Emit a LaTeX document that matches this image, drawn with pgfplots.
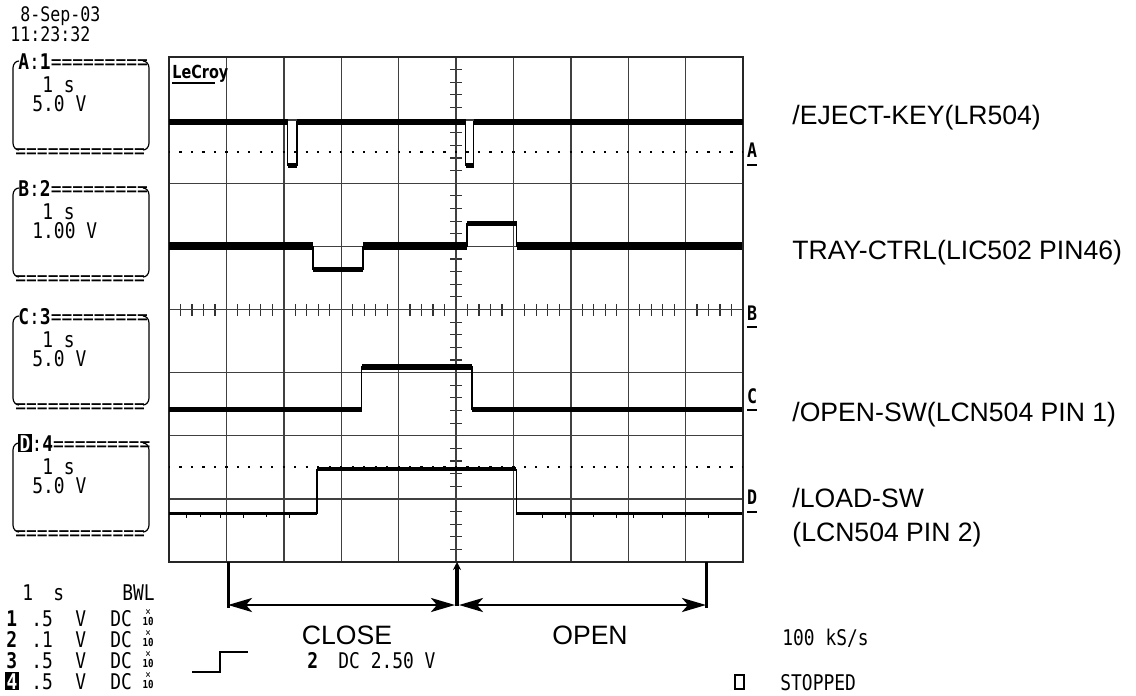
\documentclass[border=0pt]{standalone}
\usepackage{fontspec}
\setmainfont{Liberation Sans}
\newfontfamily\scr[FakeStretch=0.83]{DejaVu Sans Mono}
\newfontfamily\logofont[FakeStretch=0.8]{DejaVu Sans}
\usepackage{pgfplots}
\pgfplotsset{compat=1.18}
\usetikzlibrary{arrows.meta}
\newcommand{\sz}{\fontsize{10.8pt}{12pt}\selectfont}
\newcommand{\lab}{\fontsize{13.3pt}{15pt}\selectfont}
\begin{document}
\begin{tikzpicture}
% ---- centre graticule ticks ----
\begin{axis}[at={(84.5pt,-281pt)}, anchor=south west, scale only axis,
  width=287pt, height=252.5pt,
  xmin=-5, xmax=5, ymin=-4, ymax=4, enlargelimits=false,
  axis lines=middle, axis line style={-, draw=black!80, line width=0.7pt},
  xtick distance=0.2, ytick distance=0.2,
  xticklabel=\empty, yticklabel=\empty,
  tick align=center, major tick length=6pt,
  tick style={black!80, line width=0.6pt}]
\end{axis}
% ---- main graticule and traces ----
\begin{axis}[at={(84.5pt,-281pt)}, anchor=south west, scale only axis,
  width=287pt, height=252.5pt,
  xmin=0, xmax=10, ymin=0, ymax=8,
  xtick={0,...,10}, ytick={0,...,8},
  xticklabel=\empty, yticklabel=\empty, major tick length=0pt,
  grid=major, major grid style={black!75, line width=0.7pt},
  axis line style={black!85, line width=0.9pt},
  unbounded coords=jump, clip=false]
% reference dots (A and D)
\addplot[black, line width=1.1pt, dash pattern=on 1.1pt off 4.64pt, dash phase=0.55pt] coordinates {(0,6.5) (10,6.5)};
\addplot[black, line width=1.1pt, dash pattern=on 1.1pt off 4.64pt, dash phase=0.55pt] coordinates {(0,1.5) (10,1.5)};
% A: /EJECT-KEY
\addplot[black, line width=0.6pt] coordinates {(0,6.97) (2.07,6.97) (2.07,6.28) (2.23,6.28) (2.23,6.97) (5.17,6.97) (5.17,6.28) (5.31,6.28) (5.31,6.97) (10,6.97)};
\addplot[black, line width=2.6pt] coordinates {(0,6.97) (2.07,6.97) (2.1,nan) (2.23,6.97) (5.17,6.97) (5.2,nan) (5.31,6.97) (10,6.97) (10,nan) (2.07,6.28) (2.23,6.28) (2.3,nan) (5.17,6.28) (5.31,6.28)};
% B: TRAY-CTRL
\addplot[black, line width=0.6pt] coordinates {(0,5) (2.51,5) (2.51,4.63) (3.38,4.63) (3.38,5) (5.19,5) (5.19,5.36) (6.06,5.36) (6.06,5) (9.98,5)};
\addplot[black, line width=4pt] coordinates {(0,5) (2.51,5) (2.6,nan) (3.38,5) (5.19,5) (5.3,nan) (6.06,5) (9.98,5)};
\addplot[black, line width=2.4pt] coordinates {(2.51,4.63) (3.38,4.63) (3.5,nan) (5.19,5.36) (6.06,5.36)};
% C: /OPEN-SW
\addplot[black, line width=0.6pt] coordinates {(0,2.41) (3.36,2.41) (3.36,3.09) (5.28,3.09) (5.28,2.41) (9.98,2.41)};
\addplot[black, line width=2.6pt] coordinates {(0,2.41) (3.36,2.41) (3.4,nan) (3.36,3.09) (5.28,3.09) (5.3,nan) (5.28,2.41) (9.98,2.41)};
% D: /LOAD-SW
\addplot[black, line width=0.6pt] coordinates {(0,0.77) (2.58,0.77) (2.58,1.47) (6.05,1.47) (6.05,0.77) (9.98,0.77)};
\addplot[black, line width=1.8pt] coordinates {(0,0.77) (2.58,0.77) (2.6,nan) (6.05,0.77) (9.98,0.77)};
\addplot[black, line width=2.2pt] coordinates {(2.58,1.47) (6.05,1.47)};
% D noise spikes
\addplot[black, line width=0.5pt] coordinates {(0.3,0.77) (0.3,0.69) (0.31,nan) (0.55,0.77) (0.55,0.71) (0.56,nan) (0.9,0.77) (0.9,0.70) (0.91,nan) (1.3,0.77) (1.3,0.69) (1.31,nan) (1.7,0.77) (1.7,0.71) (1.71,nan) (2.1,0.77) (2.1,0.70) (2.11,nan) (6.5,0.77) (6.5,0.70) (6.51,nan) (6.9,0.77) (6.9,0.69) (6.91,nan) (7.4,0.77) (7.4,0.71) (7.41,nan) (7.8,0.77) (7.8,0.69) (7.81,nan) (8.1,0.77) (8.1,0.70) (8.11,nan) (8.6,0.77) (8.6,0.69) (8.61,nan) (9.0,0.77) (9.0,0.71) (9.01,nan) (9.4,0.77) (9.4,0.70)};
\end{axis}
% ---- annotations in pixel units ----
\begin{scope}[x=0.5pt, y=-0.5pt]
\path (0,0) rectangle (1136,696);
% logo
\node[anchor=base west, inner sep=0, font=\logofont\bfseries\fontsize{9pt}{10pt}\selectfont] at (172,78) {LeCroy};
\draw[line width=1pt] (172,83) -- (215,83);
% arrows under the grid
\draw[line width=1.5pt] (228,562) -- (228,608);
\draw[line width=1.5pt] (706,562) -- (706,608);
\draw[line width=1.4pt, {Stealth[length=12pt,width=7pt,inset=3pt]}-{Stealth[length=12pt,width=7pt,inset=3pt]}] (228,605) -- (455,605);
\draw[line width=1.4pt, {Stealth[length=12pt,width=7pt,inset=3pt]}-{Stealth[length=12pt,width=7pt,inset=3pt]}] (459,605) -- (706,605);
\draw[line width=2pt, -{Stealth[length=4pt,width=4pt]}] (457,606) -- (457,562);
\node[anchor=base, inner sep=0, font=\lab] at (347,644) {CLOSE};
\node[anchor=base, inner sep=0, font=\lab] at (590,644) {OPEN};
% right labels
\node[anchor=base west, inner sep=0, font=\lab] at (792,124) {/EJECT-KEY(LR504)};
\node[anchor=base west, inner sep=0, font=\lab] at (792,259) {TRAY-CTRL(LIC502 PIN46)};
\node[anchor=base west, inner sep=0, font=\lab] at (792,421) {/OPEN-SW(LCN504 PIN 1)};
\node[anchor=base west, inner sep=0, font=\lab] at (792,507) {/LOAD-SW};
\node[anchor=base west, inner sep=0, font=\lab] at (792,541) {(LCN504 PIN 2)};
% channel markers
\foreach \L/\c/\u in {A/150/165, B/313/327, C/396/410, D/497/512}{
  \node[inner sep=0, font=\scr\bfseries\fontsize{10pt}{11pt}\selectfont] at (752,\c) {\L};
  \draw[line width=0.9pt] (747,\u) -- (757,\u);
}
% date / time
\node[anchor=base west, inner sep=0, font=\scr\fontsize{10pt}{11pt}\selectfont] at (20,21) {8-Sep-03};
\node[anchor=base west, inner sep=0, font=\scr\fontsize{10pt}{11pt}\selectfont] at (10,41) {11:23:32};
% channel boxes
\foreach \T/\A/\N/\V in {61/A/1/5.0 V, 188/B/2/1.00 V, 316/C/3/5.0 V}{
  \node[anchor=base west, inner sep=0, font=\scr\sz] at (18,\T+8) {\textbf{\A}:\textbf{\N}=========};
  \node[anchor=base west, inner sep=0, font=\scr\sz] at (42,\T+31) {1 s};
  \node[anchor=base west, inner sep=0, font=\scr\sz] at (32,\T+50) {\V};
  \node[anchor=base west, inner sep=0, font=\scr\sz] at (15,\T+97) {============};
  \draw[line width=0.6pt] (19,\T) to[out=180,in=90] (13,\T+7) -- (13,\T+82) to[out=-90,in=180] (19,\T+89);
  \draw[line width=0.6pt] (143,\T) to[out=0,in=90] (149,\T+7) -- (149,\T+82) to[out=-90,in=0] (143,\T+89);
}
\node[anchor=base west, inner sep=0, font=\scr\sz] at (18,451) {{\setlength{\fboxsep}{0.6pt}\colorbox{black}{\color{white}\bfseries D}}:\textbf{4}=========};
\node[anchor=base west, inner sep=0, font=\scr\sz] at (42,474) {1 s};
\node[anchor=base west, inner sep=0, font=\scr\sz] at (32,493) {5.0 V};
\node[anchor=base west, inner sep=0, font=\scr\sz] at (15,540) {============};
\draw[line width=0.6pt] (19,443) to[out=180,in=90] (13,450) -- (13,525) to[out=-90,in=180] (19,532);
\draw[line width=0.6pt] (143,443) to[out=0,in=90] (149,450) -- (149,525) to[out=-90,in=0] (143,532);
% bottom-left settings
\node[anchor=base west, inner sep=0, font=\scr\sz] at (22,600) {1};
\node[anchor=base west, inner sep=0, font=\scr\sz] at (53,600) {s};
\node[anchor=base west, inner sep=0, font=\scr\sz] at (122,600) {BWL};
\foreach \y/\n/\v in {618/1/.5, 639/2/.1, 660/3/.5}{
  \node[anchor=base west, inner sep=0, font=\scr\sz\bfseries] at (6,\y+8) {\n};
  \node[anchor=base west, inner sep=0, font=\scr\sz] at (31,\y+8) {\v};
  \node[anchor=base west, inner sep=0, font=\scr\sz] at (75,\y+8) {V};
  \node[anchor=base west, inner sep=0, font=\scr\sz] at (110,\y+8) {DC};
  \node[inner sep=0, align=center, font=\scr\fontsize{5.5pt}{5pt}\selectfont] at (148,\y) {×\\\textbf{10}};
}
\node[anchor=base west, inner sep=0, font=\scr\sz] at (5,689) {{\setlength{\fboxsep}{0.6pt}\colorbox{black}{\color{white}\bfseries 4}}};
\node[anchor=base west, inner sep=0, font=\scr\sz] at (31,689) {.5};
\node[anchor=base west, inner sep=0, font=\scr\sz] at (75,689) {V};
\node[anchor=base west, inner sep=0, font=\scr\sz] at (110,689) {DC};
\node[inner sep=0, align=center, font=\scr\fontsize{5.5pt}{5pt}\selectfont] at (148,681) {×\\\textbf{10}};
% trigger
\draw[line width=0.8pt] (192,672) -- (220,672) -- (220,652) -- (248,652);
\node[anchor=base west, inner sep=0, font=\scr\sz\bfseries] at (307,668) {2};
\node[anchor=base west, inner sep=0, font=\scr\sz] at (338,668) {DC 2.50 V};
% status
\node[anchor=base west, inner sep=0, font=\scr\sz] at (782,645) {100 kS/s};
\draw[line width=0.6pt] (735,675) rectangle (744,689);
\node[anchor=base west, inner sep=0, font=\scr\sz] at (780,690) {STOPPED};
\end{scope}
\end{tikzpicture}
\end{document}
